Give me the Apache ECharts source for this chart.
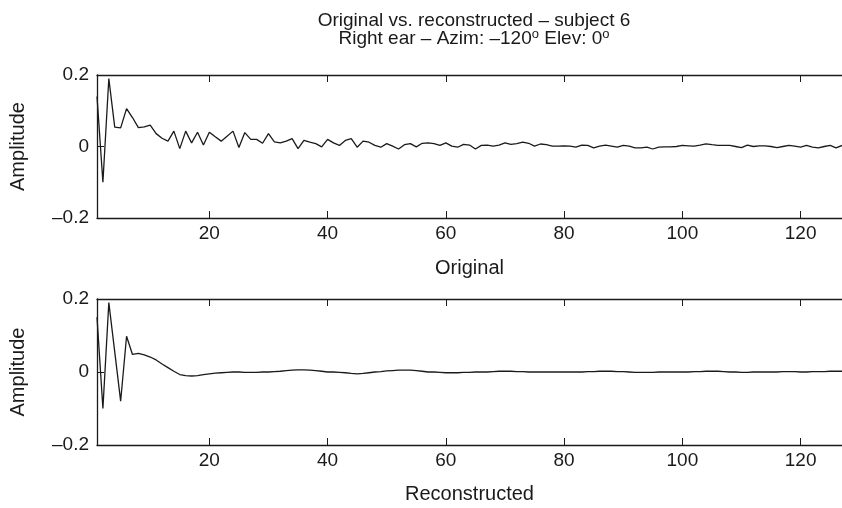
<!DOCTYPE html>
<html>
<head>
<meta charset="utf-8">
<script src="https://cdn.jsdelivr.net/npm/echarts@6/dist/echarts.min.js"></script>
<style>
html, body { margin: 0; padding: 0; background: #fff; }
#chart { width: 842px; height: 508px; }
</style>
</head>
<body>
<div id="chart"></div>
<script>
// sample index 1..127
var samples = [];
for (var i = 1; i <= 127; i++) samples.push(i);

var original = [
	0.14, -0.100, 0.190, 0.054, 0.052, 0.106, 0.081, 0.053, 0.055, 0.060,
	0.036, 0.023, 0.015, 0.043, -0.006, 0.043, 0.010, 0.040, 0.004, 0.040,
	0.027, 0.015, 0.029, 0.043, -0.003, 0.039, 0.020, 0.020, 0.009, 0.036,
	0.013, 0.010, 0.015, 0.022, -0.006, 0.017, 0.012, 0.008, -0.001, 0.020,
	0.010, 0.003, 0.017, 0.022, -0.002, 0.015, 0.012, 0.003, -0.002, 0.008,
	0.001, -0.007, 0.005, 0.008, -0.001, 0.009, 0.010, 0.008, 0.003, 0.010,
	0.001, -0.002, 0.006, 0.004, -0.007, 0.003, 0.004, 0.001, 0.004, 0.010,
	0.006, 0.008, 0.012, 0.009, 0.001, 0.007, 0.005, 0.001, 0.001, 0.002,
	0.001, -0.002, 0.004, 0.003, -0.004, 0.001, 0.004, 0.001, -0.002, 0.003,
	0.001, -0.004, -0.004, -0.002, -0.007, -0.002, -0.001, -0.001, 0.000, 0.003,
	0.002, 0.001, 0.004, 0.0075, 0.005, 0.003, 0.003, 0.003, 0.000, -0.003,
	0.004, 0.000, 0.002, 0.002, 0.000, -0.003, 0.000, 0.003, 0.001, -0.002,
	0.003, -0.002, -0.004, 0.000, 0.003, -0.004, 0.003
];

var reconstructed = [
	0.15, -0.100, 0.190, 0.055, -0.080, 0.098, 0.048, 0.051, 0.047, 0.041,
	0.033, 0.022, 0.012, 0.002, -0.007, -0.010, -0.011, -0.010, -0.007, -0.005,
	-0.003, -0.002, -0.001, 0.000, 0.000, -0.001, -0.001, -0.001, 0.000, 0.000,
	0.001, 0.002, 0.004, 0.005, 0.006, 0.006, 0.005, 0.004, 0.002, 0.000,
	0.000, -0.001, -0.002, -0.004, -0.005, -0.004, -0.002, 0.000, 0.001, 0.003,
	0.004, 0.005, 0.005, 0.005, 0.004, 0.002, 0.000, 0.000, -0.001, -0.002,
	-0.002, -0.002, -0.001, -0.001, 0.000, 0.000, 0.000, 0.001, 0.002, 0.002,
	0.002, 0.001, 0.001, 0.000, 0.000, 0.000, 0.000, 0.000, 0.000, 0.000,
	0.000, 0.000, 0.000, 0.001, 0.001, 0.002, 0.002, 0.002, 0.001, 0.001,
	0.000, -0.001, -0.001, -0.001, -0.001, 0.000, 0.000, 0.000, 0.000, 0.000,
	0.000, 0.001, 0.001, 0.002, 0.002, 0.002, 0.001, 0.000, 0.000, -0.001,
	-0.001, 0.000, 0.000, 0.000, 0.000, 0.000, 0.001, 0.001, 0.001, 0.000,
	0.000, 0.001, 0.001, 0.001, 0.002, 0.002, 0.002
];

var xTicks = [20, 40, 60, 80, 100, 120];
var panelNames = ['Original', 'Reconstructed'];

var FONT = 'Liberation Sans, Arial, sans-serif';
var INK = '#1a1a1a';

function pairs(vals) {
	return vals.map(function (v, i) { return [samples[i], v]; });
}

function minusFmt(v) {
	return String(v).replace('-', '\u2013');
}

function xAxisPair(grid, name, gap) {
	return [{
		type : 'value',
		gridIndex : grid,
		position : 'bottom',
		min : 1,
		max : 127,
		name : name,
		nameLocation : 'middle',
		nameGap : gap,
		nameTextStyle : { fontFamily : FONT, fontSize : 20, color : INK },
		axisLine : { onZero : false, lineStyle : { color : INK, width : 1.3 } },
		axisTick : { inside : true, length : 7, customValues : xTicks, lineStyle : { color : INK } },
		axisLabel : { customValues : xTicks, margin : 6, fontFamily : FONT, fontSize : 19, color : INK },
		splitLine : { show : false }
	}, {
		type : 'value',
		gridIndex : grid,
		position : 'top',
		min : 1,
		max : 127,
		axisLine : { onZero : false, lineStyle : { color : INK, width : 1.3 } },
		axisTick : { inside : true, length : 7, customValues : xTicks, lineStyle : { color : INK } },
		axisLabel : { show : false },
		splitLine : { show : false }
	}];
}

function yAxis(grid) {
	return {
		type : 'value',
		gridIndex : grid,
		min : -0.2,
		max : 0.2,
		interval : 0.2,
		name : 'Amplitude',
		nameLocation : 'middle',
		nameGap : 69,
		nameTextStyle : { fontFamily : FONT, fontSize : 20, color : INK },
		axisLine : { show : true, onZero : false, lineStyle : { color : INK, width : 1.3 } },
		axisTick : { show : true, inside : true, length : 7, lineStyle : { color : INK } },
		axisLabel : { formatter : minusFmt, margin : 8, fontFamily : FONT, fontSize : 19, color : INK },
		splitLine : { show : false }
	};
}

function genOption() {
	var xs = xAxisPair(0, panelNames[0], 40).concat(xAxisPair(1, panelNames[1], 39));
	return {
		animation : false,
		backgroundColor : '#fff',
		title : {
			left : 469,
			textAlign : 'center',
			top : 7,
			text : 'Original vs. reconstructed \u2013 subject 6\nRight ear \u2013 Azim: \u2013120{s|o} Elev: 0{s|o}',
			textStyle : {
				fontFamily : FONT,
				fontSize : 19,
				fontWeight : 'normal',
				color : INK,
				lineHeight : 18,
				rich : {
					s : { fontFamily : FONT, fontSize : 13, color : INK, lineHeight : 18, padding : [0, 0, 9, 0] }
				}
			}
		},
		grid : [
			{ left : 96, right : -2, top : 75, height : 143 },
			{ left : 96, right : -2, top : 299, height : 146 }
		],
		xAxis : xs,
		yAxis : [ yAxis(0), yAxis(1) ],
		series : [ {
			name : panelNames[0],
			type : 'line',
			xAxisIndex : 0,
			yAxisIndex : 0,
			showSymbol : false,
			lineStyle : { color : INK, width : 1.3 },
			data : pairs(original)
		}, {
			name : panelNames[1],
			type : 'line',
			xAxisIndex : 2,
			yAxisIndex : 1,
			showSymbol : false,
			lineStyle : { color : INK, width : 1.3 },
			data : pairs(reconstructed)
		} ]
	};
}

var chart = echarts.init(document.getElementById('chart'));
chart.setOption(genOption());
</script>
</body>
</html>
